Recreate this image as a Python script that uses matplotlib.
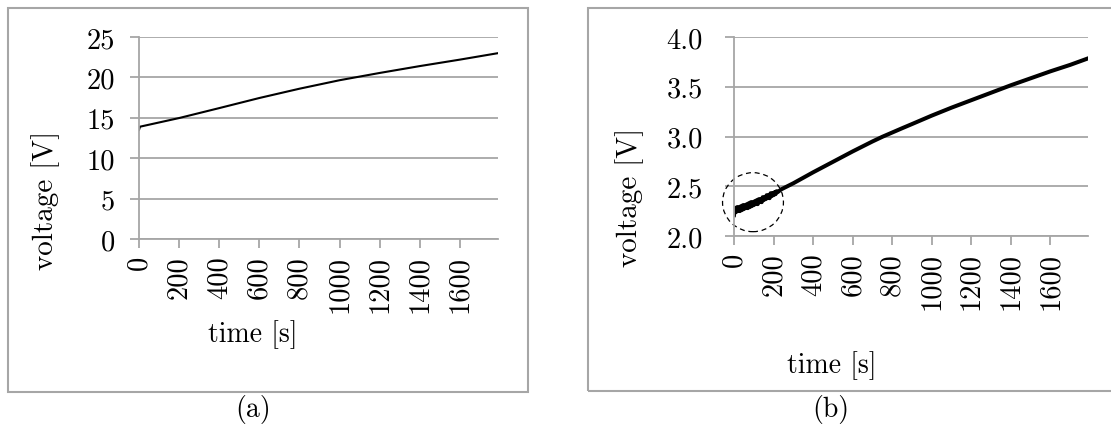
import matplotlib
matplotlib.use("Agg")
import matplotlib.pyplot as plt
from matplotlib.patches import Rectangle, Ellipse

plt.rcParams['font.family'] = 'cmr10'
plt.rcParams['axes.formatter.use_mathtext'] = True

# (a) voltage over time
t_a = [0, 5, 200, 400, 600, 800, 1000, 1200, 1400, 1600, 1790]
v_a = [13.5, 13.9, 14.97, 16.2, 17.45, 18.6, 19.65, 20.55, 21.4, 22.2, 23.0]

# (b) voltage over time, noisy at the start
t_b = [0, 5, 10, 15, 20, 25, 30, 35, 40, 45, 50, 55, 60, 65, 70, 75, 80,
       85, 90, 95, 100, 105, 110, 115, 120, 125, 130, 135, 140, 145, 150,
       155, 160, 165, 170, 175, 180, 185, 190, 195, 200, 205, 210, 215, 220,
       240, 300, 400, 500, 600, 700, 750, 800, 850, 900, 1000, 1100, 1200,
       1300, 1400, 1500, 1600, 1700, 1790]
v_b = [2.21, 2.28, 2.24, 2.29, 2.25, 2.29, 2.25, 2.30, 2.26, 2.31, 2.27,
       2.31, 2.28, 2.32, 2.28, 2.33, 2.29, 2.34, 2.30, 2.34, 2.31, 2.35,
       2.32, 2.36, 2.32, 2.37, 2.34, 2.37, 2.34, 2.39, 2.36, 2.39, 2.37,
       2.41, 2.38, 2.41, 2.38, 2.43, 2.40, 2.43, 2.41, 2.44, 2.42, 2.45,
       2.44, 2.47, 2.53, 2.64, 2.745, 2.85, 2.95, 2.997, 3.04, 3.083,
       3.125, 3.21, 3.29, 3.365, 3.44, 3.515, 3.585, 3.655, 3.72, 3.785]

x_ticks = [0, 200, 400, 600, 800, 1000, 1200, 1400, 1600]
y_ticks_a = [0, 5, 10, 15, 20, 25]
y_ticks_b = [2.0, 2.5, 3.0, 3.5, 4.0]

W, H = 1111, 439
fig = plt.figure(figsize=(W / 100, H / 100), dpi=100)

grey = '#a6a6a6'


def px(x0, y0, x1, y1):
    return [x0 / W, 1 - y1 / H, (x1 - x0) / W, (y1 - y0) / H]


def setup(ax, yticks, fmt, ypad):
    ax.set_xlim(0, 1790)
    ax.set_ylim(yticks[0], yticks[-1])
    ax.set_xticks(x_ticks)
    ax.set_xticklabels([str(t) for t in x_ticks], rotation=90, va='top')
    ax.set_yticks(yticks)
    ax.set_yticklabels([fmt.format(y) for y in yticks])
    for s in ['top', 'right']:
        ax.spines[s].set_visible(False)
    for s in ['left', 'bottom']:
        ax.spines[s].set_color(grey)
        ax.spines[s].set_linewidth(1.3)
    ax.tick_params(direction='out', length=6.5, width=1.3, color=grey,
                   labelsize=20.5)
    ax.tick_params(axis='x', pad=5)
    ax.tick_params(axis='y', pad=ypad)
    ax.grid(axis='y', color=grey, linewidth=1.3)
    ax.set_axisbelow(True)


# frames around each panel
fig.add_artist(Rectangle((8 / W, 1 - 393 / H), 520 / W, 384 / H,
                         transform=fig.transFigure, fill=False,
                         edgecolor=grey, linewidth=1.5))
fig.add_artist(Rectangle((588 / W, 1 - 392 / H), 560 / W, 383 / H,
                         transform=fig.transFigure, fill=False,
                         edgecolor=grey, linewidth=1.5))

ax1 = fig.add_axes(px(139, 38, 498, 240))
setup(ax1, y_ticks_a, '{:d}', 11)
ax1.plot(t_a, v_a, color='black', linewidth=1.5)

ax2 = fig.add_axes(px(734, 38, 1088, 237))
setup(ax2, y_ticks_b, '{:.1f}', 16)
ax2.plot(t_b, v_b, color='black', linewidth=2.9)
ax2.add_patch(Ellipse((96, 2.34), 308, 0.593, fill=False, linestyle=(0, (4, 3)),
                      edgecolor='black', linewidth=0.9, clip_on=False))

fig.text(46 / W, 1 - 200 / H, 'voltage [V]', rotation=90, ha='center',
         va='center', fontsize=21)
fig.text(630 / W, 1 - 197 / H, 'voltage [V]', rotation=90, ha='center',
         va='center', fontsize=21)
fig.text(253 / W, 1 - 335 / H, 'time [s]', ha='center', va='center', fontsize=20)
fig.text(832 / W, 1 - 366 / H, 'time [s]', ha='center', va='center', fontsize=20)
fig.text(253 / W, 1 - 410 / H, '(a)', ha='center', va='center', fontsize=20)
fig.text(831 / W, 1 - 410 / H, '(b)', ha='center', va='center', fontsize=20)

fig.savefig('out.png', dpi=100)
